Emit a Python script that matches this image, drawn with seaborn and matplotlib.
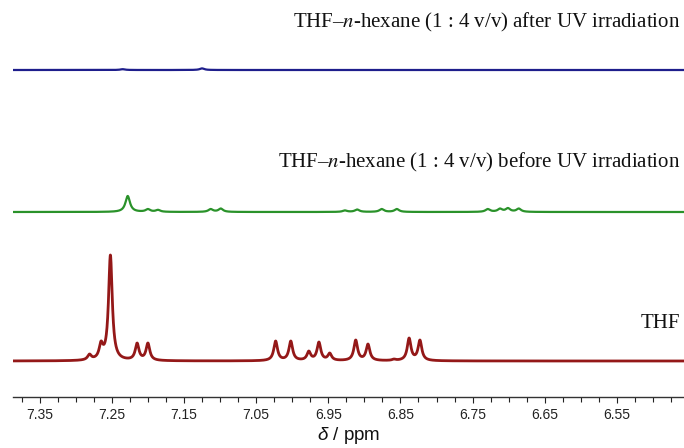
import numpy as np
import pandas as pd
import matplotlib
matplotlib.use("Agg")
import matplotlib.pyplot as plt
from matplotlib.ticker import FixedLocator, MultipleLocator
import seaborn as sns

# Peak positions (ppm) and apparent peak heights (arbitrary units) of each spectrum
thf_ppm = [7.281, 7.265, 7.252, 7.215, 7.200, 7.023, 7.002, 6.977, 6.963, 6.948,
           6.912, 6.895, 6.859, 6.838, 6.823]
thf_height = [7, 20, 106, 18, 18, 20, 20, 10, 19, 8, 21, 17, 2, 23, 21]

before_ppm = [7.228, 7.200, 7.186, 7.113, 7.099, 6.927, 6.910, 6.876, 6.855,
              6.729, 6.712, 6.701, 6.686]
before_height = [16, 3, 2.2, 3, 3.5, 1.6, 2.5, 3, 3, 3, 3.5, 4, 3.5]

after_ppm = [7.235, 7.125]
after_height = [0.8, 1.6]

tick_labels = ["7.35", "7.25", "7.15", "7.05", "6.95", "6.85", "6.75", "6.65", "6.55"]
trace_names = ["THF", "before", "after"]
trace_labels = ["THF",
                r"THF–$\mathit{n}$-hexane (1 : 4 v/v) before UV irradiation",
                r"THF–$\mathit{n}$-hexane (1 : 4 v/v) after UV irradiation"]
trace_colors = ["#941818", "#2a922a", "#1e1e8c"]
trace_offsets = [36, 185, 327]
trace_hwhm = [0.0031, 0.0038, 0.0038]
label_y = [323, 162, 22]

grid = np.linspace(7.39, 6.455, 4000)


def lorentz(x, center, hwhm):
    return 1.0 / (1.0 + ((x - center) / hwhm) ** 2)


def spectrum(ppm, heights, hwhm):
    ppm = np.asarray(ppm)
    heights = np.asarray(heights, dtype=float)
    # amplitudes chosen so the summed line reaches the listed heights at each peak
    basis = lorentz(ppm[:, None], ppm[None, :], hwhm)
    amps = np.linalg.solve(basis, heights)
    return (amps[None, :] * lorentz(grid[:, None], ppm[None, :], hwhm)).sum(axis=1)


frames = []
for name, (p, h), off, hw in zip(trace_names,
                                 [(thf_ppm, thf_height), (before_ppm, before_height),
                                  (after_ppm, after_height)],
                                 trace_offsets, trace_hwhm):
    frames.append(pd.DataFrame({"ppm": grid, "intensity": spectrum(p, h, hw) + off,
                                "trace": name}))
data = pd.concat(frames, ignore_index=True)

sns.set_theme(style="white")
plt.rcParams["font.family"] = ["Liberation Sans", "DejaVu Sans"]
plt.rcParams["mathtext.fontset"] = "custom"
plt.rcParams["mathtext.it"] = "Liberation Sans:italic"
plt.rcParams["mathtext.rm"] = "Liberation Sans"

W, H = 684, 448
fig = plt.figure(figsize=(W / 100, H / 100), dpi=100)
ax = fig.add_axes([13 / W, 51 / H, (W - 13) / W, 397 / H])

widths = {"THF": 2.0, "before": 1.6, "after": 1.6}
for name, color in zip(trace_names, trace_colors):
    sns.lineplot(data=data[data["trace"] == name], x="ppm", y="intensity",
                 color=color, lw=widths[name], ax=ax, sort=False,
                 estimator=None)

ax.set_xlim(7.387, 6.457)
ax.set_ylim(0, 397)
ax.set_yticks([])
ax.set_ylabel("")
ax.xaxis.set_major_locator(FixedLocator([float(t) for t in tick_labels]))
ax.set_xticklabels(tick_labels)
ax.xaxis.set_minor_locator(MultipleLocator(0.025))
ax.tick_params(axis="x", which="both", direction="out", length=4, width=0.8,
               color="#222222", bottom=True, labelsize=10, pad=4,
               labelcolor="#222222")
ax.tick_params(axis="x", which="minor", length=3.5)
for side in ["top", "left", "right"]:
    ax.spines[side].set_visible(False)
ax.spines["bottom"].set_color("#333333")
ax.spines["bottom"].set_linewidth(1.0)
ax.set_xlabel(r"$\delta$ / ppm", fontsize=13.5, color="#111111", labelpad=2,
              math_fontfamily="custom")

for text, y in zip(trace_labels, label_y):
    fig.text(680 / W, 1 - y / H, text, ha="right", va="center",
             fontsize=15, family="Liberation Serif", color="#111111",
             math_fontfamily="stix")

fig.savefig("out.png", dpi=100, facecolor="white")
